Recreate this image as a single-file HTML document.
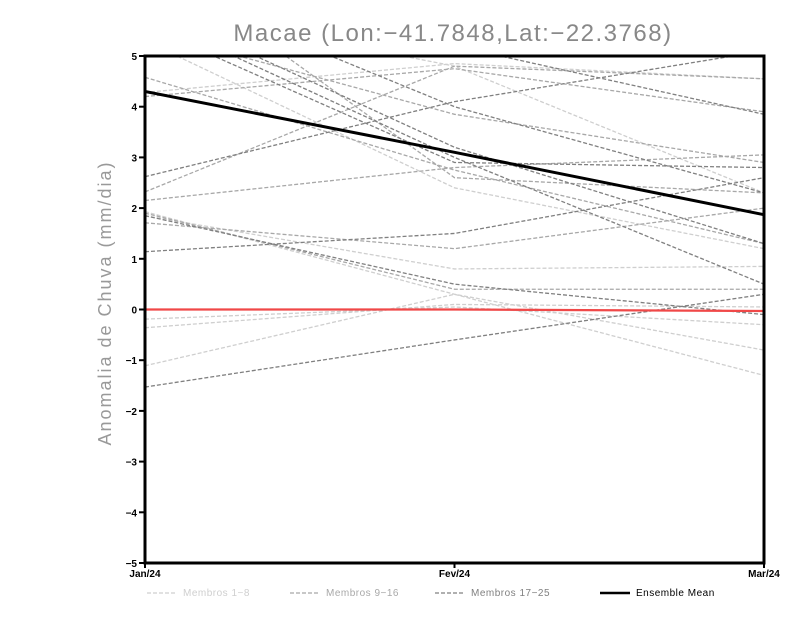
<!DOCTYPE html>
<html><head><meta charset="utf-8"><style>
body{margin:0;background:#fff;width:800px;height:618px;overflow:hidden}
svg{font-family:"Liberation Sans",sans-serif}
</style></head><body>
<svg id="chart" width="800" height="618" xmlns="http://www.w3.org/2000/svg">
<defs><clipPath id="clip"><rect x="145" y="56" width="619" height="507"/></clipPath></defs>
<text x="453" y="41" text-anchor="middle" font-size="24" fill="#888" letter-spacing="1.5">Macae (Lon:−41.7848,Lat:−22.3768)</text>
<text transform="translate(111,303) rotate(-90)" text-anchor="middle" font-size="18" fill="#999" letter-spacing="2">Anomalia de Chuva (mm/dia)</text>
<g id="members" clip-path="url(#clip)"></g>
<g id="overlay" clip-path="url(#clip)"></g>
<rect x="145" y="56" width="619" height="507" fill="none" stroke="#000" stroke-width="3"/>
<g id="axes"></g>
<g id="legend"></g>
</svg>
<script>
const categories=["Jan/24","Fev/24","Mar/24"];
const yTicks=[-5,-4,-3,-2,-1,0,1,2,3,4,5];
const group1=[[4.28,4.85,4.55],[5.3,2.4,1.2],[1.93,0.3,-0.8],[-0.36,0.1,0.05],[-0.19,0.05,-0.3],[-1.11,0.3,-1.3],[6,4.8,2.3],[1.85,0.8,0.85]];
const group2=[[4.58,2.75,1.3],[2.32,4.8,4.55],[2.15,2.8,3.05],[1.71,1.2,2.0],[4.2,4.75,3.9],[5.5,3.85,2.9],[7,2.6,2.3],[1.9,0.4,0.4]];
const group3=[[2.62,4.1,5.1],[1.14,1.5,2.6],[1.85,0.5,-0.1],[-1.53,-0.6,0.3],[6,3.2,1.3],[6.5,4.0,2.3],[5.8,3.0,0.5],[7,5.2,3.85],[5.6,2.9,2.8]];
const ensembleMean=[4.3,3.1,1.87];
const zeroLine=[0,0,-0.03];
const NS="http://www.w3.org/2000/svg";
function xS(i){return 145+i*(619/(categories.length-1));}
function yS(v){return 309.5-v*50.7;}
function mk(tag,attrs,parent){const e=document.createElementNS(NS,tag);for(const k in attrs)e.setAttribute(k,attrs[k]);parent.appendChild(e);return e;}
function pts(a){return a.map((v,i)=>xS(i)+","+yS(v)).join(" ");}
const mem=document.getElementById("members");
const groups=[[group1,"#cfcfcf","membros-1-8"],[group2,"#a8a8a8","membros-9-16"],[group3,"#808080","membros-17-25"]];
groups.forEach(([g,c,n])=>g.forEach((s,j)=>{
 const p=mk("polyline",{points:pts(s),fill:"none",stroke:c,"stroke-width":1.3,"stroke-dasharray":"4,2"},mem);
 
 
}));
const ov=document.getElementById("overlay");
const z=mk("polyline",{points:pts(zeroLine),fill:"none",stroke:"#f04848","stroke-width":2.2},ov);


const m=mk("polyline",{points:pts(ensembleMean),fill:"none",stroke:"#000","stroke-width":3},ov);


const ax=document.getElementById("axes");
yTicks.forEach(t=>{
 const l=mk("line",{x1:139,x2:145,y1:yS(t),y2:yS(t),stroke:"#000","stroke-width":2},ax);
 
 
 const tx=mk("text",{x:137,y:yS(t)+4,"text-anchor":"end","font-size":10,"font-weight":"bold"},ax);
 tx.textContent=(t<0?"−"+Math.abs(t):t);
 
 
});
categories.forEach((c,i)=>{
 const l=mk("line",{x1:xS(i),x2:xS(i),y1:563,y2:568,stroke:"#000","stroke-width":2},ax);
 
 
 const tx=mk("text",{x:xS(i),y:577,"text-anchor":"middle","font-size":10,"font-weight":"bold"},ax);
 tx.textContent=c;
 
 
});
const lg=document.getElementById("legend");
const legendItems=[["Membros 1−8","#cfcfcf",147,"4,2",1.3],["Membros 9−16","#a8a8a8",290,"4,2",1.3],["Membros 17−25","#808080",435,"4,2",1.3],["Ensemble Mean","#000",600,"",2.5]];
legendItems.forEach(([t,c,x,d,w])=>{
 const g=mk("g",{},lg);
 
 
 mk("line",{x1:x,x2:x+30,y1:593,y2:593,stroke:c,"stroke-width":w,"stroke-dasharray":d},g);
 const tx=mk("text",{x:x+36,y:596,"font-size":10,fill:c,"letter-spacing":0.5},g);
 tx.textContent=t;
});
</script>
</body></html>
